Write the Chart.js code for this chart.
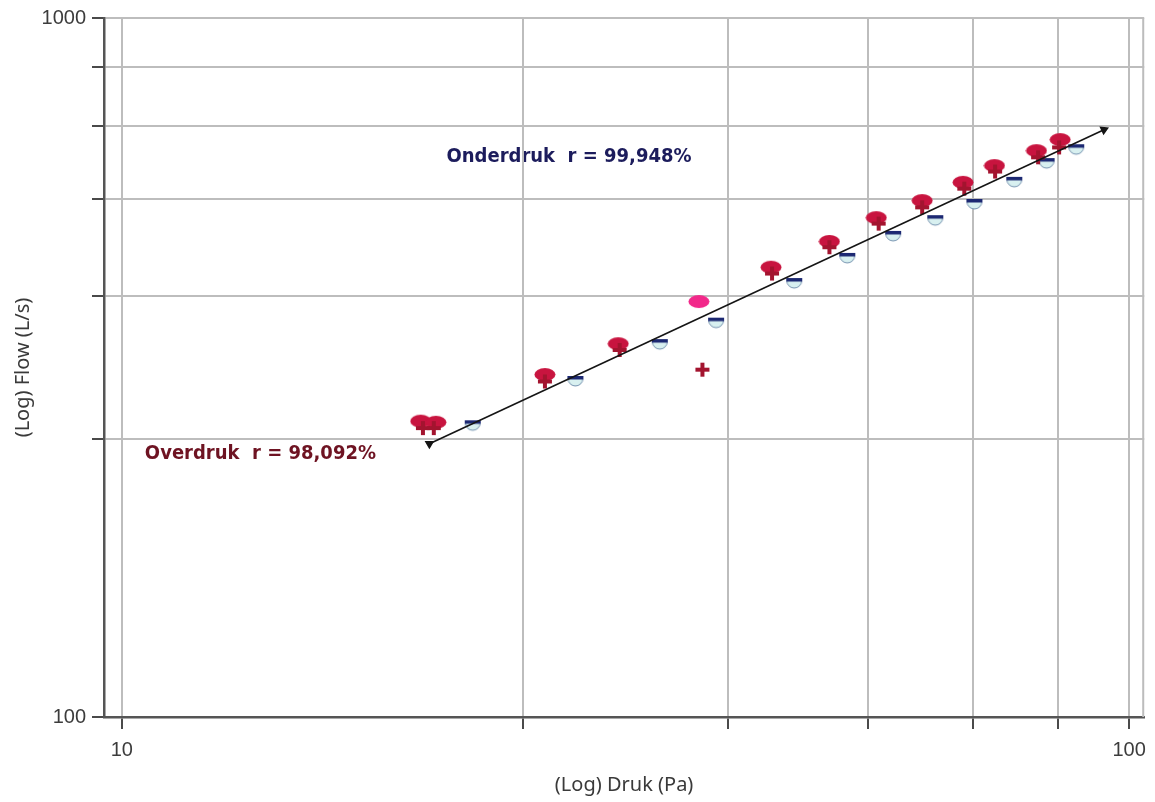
<!DOCTYPE html>
<html>
<head>
<meta charset="utf-8">
<script src="https://cdn.jsdelivr.net/npm/chart.js@4.4.1/dist/chart.umd.min.js"></script>
<style>
  html, body { margin: 0; padding: 0; background: #ffffff; }
  canvas { display: block; }
</style>
</head>
<body>
<canvas id="chart" width="1155" height="802"></canvas>
<script>
// Overdruk (pressurisation) readings: pressure in Pa, flow in L/s
const overdrukDruk = [19.8, 20.5, 26.3, 31.1, 37.4, 44.1, 50.4, 56.1, 62.3, 68.4, 73.5, 80.9, 85.4];
const overdrukFlow = [265, 264, 309, 342, 393, 440, 479, 518, 548, 582, 615, 646, 670];
// Overdruk, second reading (plus markers)
const overdrukDruk2 = [19.9, 20.4, 26.3, 31.2, 37.7, 44.2, 50.4, 56.4, 62.3, 68.6, 73.6, 81.2, 85.2];
const overdrukFlow2 = [259, 259, 302, 335, 314, 431, 470, 508, 536, 570, 603, 632, 653];
// index of the rejected overdruk reading (drawn in a lighter pink)
const overdrukRejected = 4;

// Onderdruk (depressurisation) readings
const onderdrukDruk = [22.3, 28.2, 34.2, 38.9, 46.5, 52.5, 58.3, 64.2, 70.2, 76.9, 82.8, 88.6];
const onderdrukFlow = [261, 302, 341, 366, 417, 453, 487, 513, 541, 582, 619, 648];

// Fitted power-law line (start and end)
const fitDruk = [20.2, 94.4];
const fitFlow = [246, 692];

// Axis ticks (grid every 15 units, only the decade ends are labelled)
const drukTicks = [10, 25, 40, 55, 70, 85, 100];
const flowTicks = [100, 250, 400, 550, 700, 850, 1000];
const drukTickLabels = ['10', '100'];
const flowTickLabels = ['100', '1000'];
const drukRange = [9.6, 103.5];
const flowRange = [100, 1000];

// Correlation labels
const notes = [
  { text: 'Onderdruk  r = 99,948%', druk: 21.0, flow: 633, color: '#1c1c5c' },
  { text: 'Overdruk  r = 98,092%', druk: 10.54, flow: 238, color: '#6e1322' }
];

const toPoints = (xs, ys) => xs.map((x, i) => ({ x: x, y: ys[i] }));

// ---- marker glyphs ----
function makeCanvas(w, h, draw) {
  const c = document.createElement('canvas');
  c.width = w; c.height = h;
  draw(c.getContext('2d'));
  return c;
}
function ellipseMarker(color) {
  return makeCanvas(22, 15, g => {
    g.fillStyle = color;
    g.beginPath();
    g.ellipse(11, 7.5, 10.5, 6.5, 0, 0, Math.PI * 2);
    g.fill();
  });
}
const ellipseRed = ellipseMarker('#c8143f');
const ellipsePink = ellipseMarker('#f2288a');
const plusMarker = makeCanvas(16, 16, g => {
  g.fillStyle = '#a3142f';
  g.fillRect(6, 1, 4, 14);
  g.fillRect(1, 6, 14, 4);
});
const bowlMarker = makeCanvas(18, 13, g => {
  g.fillStyle = '#d8f0f0';
  g.strokeStyle = '#7391ae';
  g.lineWidth = 1;
  g.beginPath();
  g.ellipse(9, 3.5, 7.5, 7.5, 0, 0, Math.PI);
  g.closePath();
  g.fill();
  g.stroke();
  g.fillStyle = '#1c2872';
  g.fillRect(1, 1, 16, 3.5);
});

// ---- plugins ----
const frameAndNotes = {
  id: 'frameAndNotes',
  beforeDraw(chart) {
    const { ctx, scales } = chart;
    ctx.save();
    ctx.font = 'bold 20px "DejaVu Sans Condensed", "DejaVu Sans", sans-serif';
    ctx.textBaseline = 'middle';
    ctx.textAlign = 'left';
    notes.forEach(n => {
      ctx.fillStyle = n.color;
      ctx.fillText(n.text, scales.x.getPixelForValue(n.druk), scales.y.getPixelForValue(n.flow));
    });
    ctx.restore();
  },
  afterDraw(chart) {
    const { ctx, chartArea } = chart;
    ctx.save();
    ctx.strokeStyle = '#bcbcbc';
    ctx.lineWidth = 2;
    ctx.beginPath();
    ctx.moveTo(chartArea.right - 1, chartArea.top);
    ctx.lineTo(chartArea.right - 1, chartArea.bottom);
    ctx.stroke();
    ctx.restore();
  }
};

const axisFont = { family: '"Liberation Sans", Arial, sans-serif', size: 20 };
const titleFont = { family: '"Noto Sans", "Open Sans", sans-serif', size: 20 };

new Chart(document.getElementById('chart'), {
  type: 'scatter',
  data: {
    datasets: [
      {
        label: 'Fit',
        type: 'line',
        data: toPoints(fitDruk, fitFlow),
        borderColor: '#151515',
        borderWidth: 1.6,
        pointStyle: 'triangle',
        pointRadius: 4,
        pointRotation: [180, 65],
        pointBackgroundColor: '#151515',
        pointBorderColor: '#151515',
        fill: false,
        order: 0
      },
      {
        label: 'Onderdruk',
        data: toPoints(onderdrukDruk, onderdrukFlow),
        pointStyle: bowlMarker,
        order: 3
      },
      {
        label: 'Overdruk 2',
        data: toPoints(overdrukDruk2, overdrukFlow2),
        pointStyle: plusMarker,
        order: 1
      },
      {
        label: 'Overdruk',
        data: toPoints(overdrukDruk, overdrukFlow),
        pointStyle: overdrukDruk.map((_, i) => i === overdrukRejected ? ellipsePink : ellipseRed),
        order: 2
      }
    ]
  },
  options: {
    responsive: false,
    animation: false,
    events: [],
    layout: { padding: { top: 16, right: 10, left: 0, bottom: 0 } },
    plugins: { legend: { display: false }, tooltip: { enabled: false } },
    scales: {
      x: {
        type: 'logarithmic',
        min: drukRange[0],
        max: drukRange[1],
        afterBuildTicks: s => { s.ticks = drukTicks.map(v => ({ value: v })); },
        afterFit: s => { s.height = 85; },
        ticks: {
          autoSkip: false,
          maxRotation: 0,
          padding: 9,
          color: '#3c3c3c',
          font: axisFont,
          callback: v => drukTickLabels.includes(String(v)) ? String(v) : ''
        },
        grid: { color: '#bdbdbd', lineWidth: 2, tickLength: 12, tickColor: '#4a4a4a', tickWidth: 2 },
        border: { display: true, color: '#555555', width: 2.5 },
        title: {
          display: true,
          text: '(Log) Druk (Pa)',
          color: '#3a3a3a',
          font: titleFont,
          padding: { top: 0, bottom: 5 }
        }
      },
      y: {
        type: 'logarithmic',
        min: flowRange[0],
        max: flowRange[1],
        afterBuildTicks: s => { s.ticks = flowTicks.map(v => ({ value: v })); },
        afterFit: s => { s.width = 104; },
        ticks: {
          autoSkip: false,
          padding: 6,
          color: '#3c3c3c',
          font: axisFont,
          callback: v => flowTickLabels.includes(String(v)) ? String(v) : ''
        },
        grid: { color: '#bdbdbd', lineWidth: 2, tickLength: 12, tickColor: '#4a4a4a', tickWidth: 2 },
        border: { display: true, color: '#555555', width: 2.5 },
        title: {
          display: true,
          text: '(Log) Flow (L/s)',
          color: '#3a3a3a',
          font: titleFont,
          padding: { top: 11, bottom: 0 }
        }
      }
    }
  },
  plugins: [frameAndNotes]
});
</script>
</body>
</html>
